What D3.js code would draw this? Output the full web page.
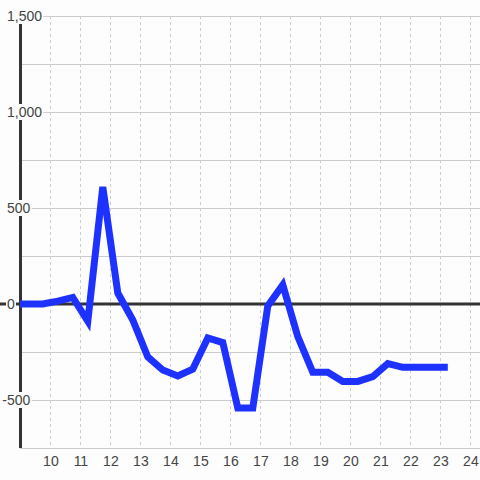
<!DOCTYPE html>
<html><head><meta charset="utf-8">
<script src="https://cdn.jsdelivr.net/npm/d3@7"></script>
<style>html,body{margin:0;padding:0;background:#fcfdfc;}svg{display:block;}</style>
</head><body><svg id="c" width="480" height="480"></svg>
<script>
// Data
const times = [8.75, 9.25, 9.75, 10.25, 10.75, 11.25, 11.75, 12.25, 12.75, 13.25, 13.75, 14.25, 14.75, 15.25, 15.75, 16.25, 16.75, 17.25, 17.75, 18.25, 18.75, 19.25, 19.75, 20.25, 20.75, 21.25, 21.75, 22.25, 22.75, 23.25];
const values = [0, 0, 0, 15, 34, -90, 610, 57, -83, -276, -344, -375, -339, -177, -201, -542, -542, -10, 99, -170, -356, -356, -403, -403, -378, -310, -330, -330, -330, -330];
const yTicks = [-500, 0, 500, 1000, 1500];
const yGrid = [-750, -500, -250, 0, 250, 500, 750, 1000, 1250, 1500];
const xTicks = [10, 11, 12, 13, 14, 15, 16, 17, 18, 19, 20, 21, 22, 23, 24];

const W = 480, H = 480;
const svg = d3.select("#c");
const x = d3.scaleLinear().domain([9, 9 + 459.7 / 30]).range([20.3, 480]);
const y = d3.scaleLinear().domain([-750, 1500]).range([448, 16]);
const fmt = d3.format(",");
const bg = "#fcfdfc";

svg.append("rect").attr("width", W).attr("height", H).attr("fill", bg);

// horizontal grid
svg.append("g").selectAll("line").data(yGrid).join("line")
  .attr("x1", 20).attr("x2", W)
  .attr("y1", d => Math.round(y(d)) + 0.5).attr("y2", d => Math.round(y(d)) + 0.5)
  .attr("stroke", "#cccccc").attr("stroke-width", 1);

// vertical dotted grid
svg.append("g").selectAll("line").data(xTicks).join("line")
  .attr("x1", d => Math.round(x(d)) + 0.5).attr("x2", d => Math.round(x(d)) + 0.5)
  .attr("y1", 16).attr("y2", 448)
  .attr("stroke", "#cccccc").attr("stroke-width", 1).attr("stroke-dasharray", "3,3");

// y axis line
svg.append("line").attr("x1", 20.5).attr("x2", 20.5).attr("y1", 16).attr("y2", 448)
  .attr("stroke", "#333333").attr("stroke-width", 3);

// zero line
svg.append("line").attr("x1", 0).attr("x2", W).attr("y1", y(0)).attr("y2", y(0))
  .attr("stroke", "#333333").attr("stroke-width", 3);

// y labels with background
const yl = svg.append("g");
const font = "'Liberation Sans', Arial, sans-serif";
yTicks.forEach(v => {
  const g = yl.append("g");
  const t = g.append("text").text(fmt(v).replace("−", "-"))
    .attr("font-family", font).attr("font-size", 14).attr("fill", "#444444")
    .attr("dominant-baseline", "central").attr("y", y(v));
  let xs = 7;
  if (v < 0) {
    const m = g.append("text").text("-").attr("font-family", font).attr("font-size", 14);
    xs -= m.node().getComputedTextLength();
    m.remove();
  }
  t.attr("x", xs);
  const bb = t.node().getBBox();
  g.insert("rect", "text").attr("x", bb.x - 1).attr("y", y(v) - 8).attr("width", bb.width + 2).attr("height", 16).attr("fill", bg);
});

// x labels
svg.append("g").selectAll("text").data(xTicks).join("text")
  .attr("x", d => x(d) + 0.6).attr("y", 466).attr("text-anchor", "middle")
  .attr("font-family", font).attr("font-size", 14).attr("fill", "#444444")
  .text(d => d);

// data line
svg.append("clipPath").attr("id", "pc").append("rect").attr("x", 20).attr("y", 0).attr("width", 460).attr("height", 480);
const line = d3.line().x((d, i) => x(times[i])).y(d => y(d));
svg.append("path").datum(values).attr("d", line).attr("clip-path", "url(#pc)")
  .attr("fill", "none").attr("stroke", "#1e32ff").attr("stroke-width", 7);
</script></body></html>
